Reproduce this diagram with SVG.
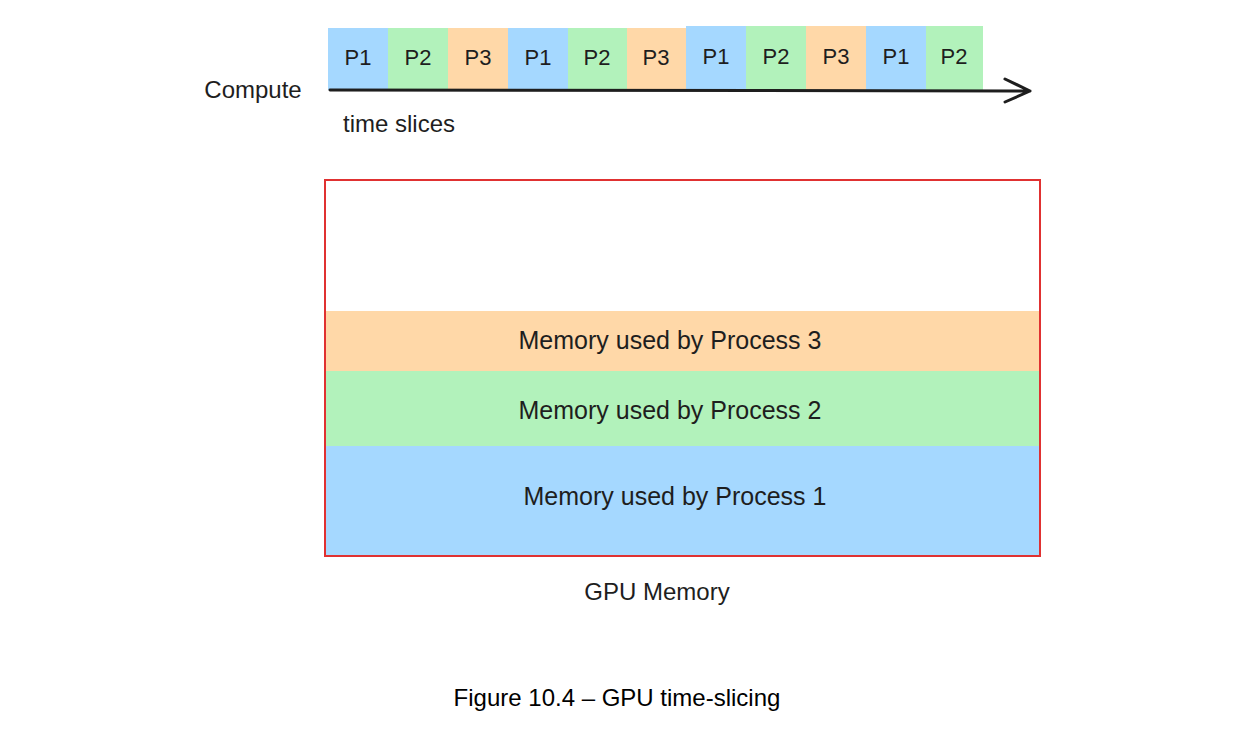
<svg xmlns="http://www.w3.org/2000/svg" width="1242" height="744" viewBox="0 0 1242 744">
<style>
.b{fill:#a5d8ff}.g{fill:#b2f2bb}.o{fill:#ffd8a8}
.t{font-family:"Liberation Sans",sans-serif;font-size:22px;fill:#1e1e1e;text-anchor:middle}
.l{font-family:"Liberation Sans",sans-serif;font-size:24px;fill:#1e1e1e;text-anchor:middle}
.m{font-family:"Liberation Sans",sans-serif;font-size:25px;fill:#1e1e1e;text-anchor:middle}
</style>
<rect width="1242" height="744" fill="#fff"/>
<g id="slices">
<rect class="b" x="328" y="28" width="60" height="62"/><text class="t" x="358" y="65">P1</text>
<rect class="g" x="388" y="28" width="60" height="62"/><text class="t" x="418" y="65">P2</text>
<rect class="o" x="448" y="28" width="60" height="62"/><text class="t" x="478" y="65">P3</text>
<rect class="b" x="508" y="28" width="60" height="62"/><text class="t" x="538" y="65">P1</text>
<rect class="g" x="568" y="28" width="59" height="62"/><text class="t" x="597" y="65">P2</text>
<rect class="o" x="627" y="28" width="59" height="62"/><text class="t" x="656" y="65">P3</text>
<rect class="b" x="686" y="26" width="60" height="64"/><text class="t" x="716" y="64">P1</text>
<rect class="g" x="746" y="26" width="60" height="64"/><text class="t" x="776" y="64">P2</text>
<rect class="o" x="806" y="26" width="60" height="64"/><text class="t" x="836" y="64">P3</text>
<rect class="b" x="866" y="26" width="60" height="64"/><text class="t" x="896" y="64">P1</text>
<rect class="g" x="926" y="26" width="57" height="64"/><text class="t" x="954" y="64">P2</text>
</g>
<g id="connectors">
<path d="M330 90 L1030 91 M1005 79 L1030 91 L1005 102" fill="none" stroke="#1e1e1e" stroke-width="3" stroke-linecap="round" stroke-linejoin="round"/>
</g>
<text class="l" x="253" y="98">Compute</text>
<text class="l" x="399" y="132">time slices</text>
<g id="memory">
<rect class="o" x="325" y="311" width="715" height="60"/>
<rect class="g" x="325" y="371" width="715" height="75"/>
<rect class="b" x="325" y="446" width="715" height="110"/>
<rect x="325" y="180" width="715" height="376" fill="none" stroke="#e03131" stroke-width="2"/>
<text class="m" x="670" y="349">Memory used by Process 3</text>
<text class="m" x="670" y="419">Memory used by Process 2</text>
<text class="m" x="675" y="505">Memory used by Process 1</text>
</g>
<text class="l" x="657" y="600">GPU Memory</text>
<text x="617" y="706" font-family="Liberation Sans,sans-serif" font-size="24" fill="#000" text-anchor="middle">Figure 10.4 – GPU time-slicing</text>
</svg>
